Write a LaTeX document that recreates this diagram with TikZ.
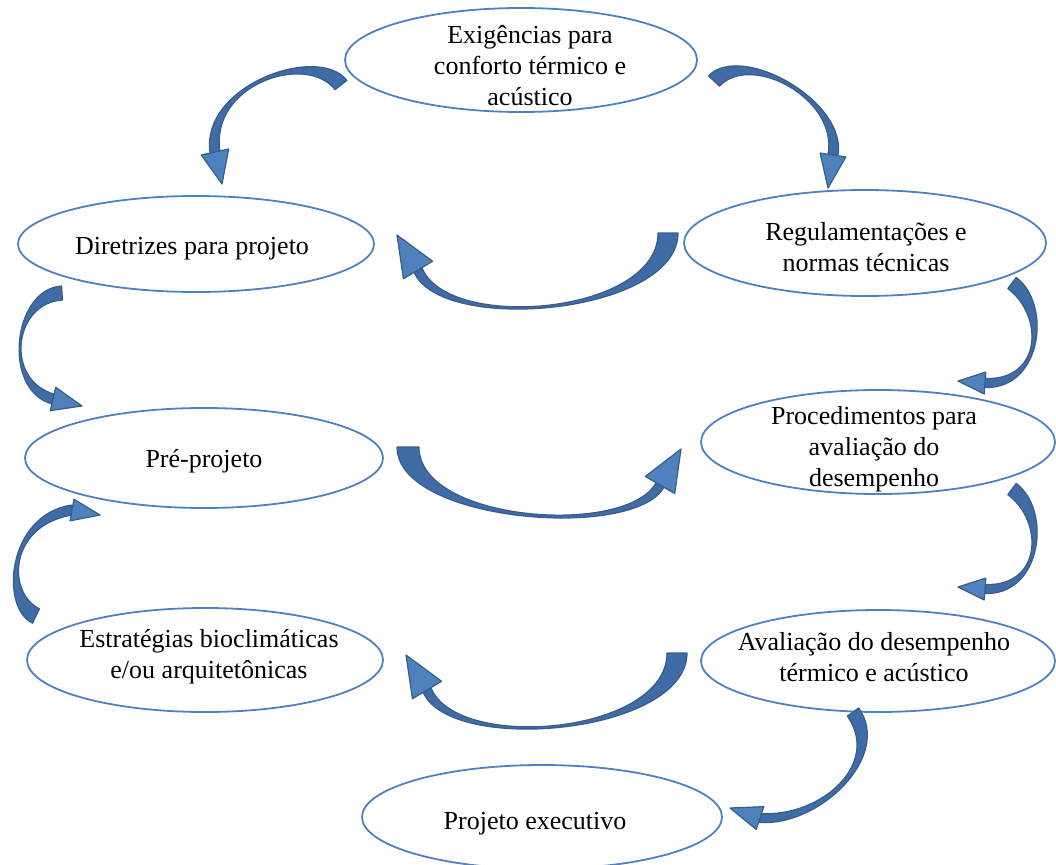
\documentclass[tikz,border=0pt]{standalone}
\usepackage{fontspec}
\setmainfont{Liberation Serif}
\usetikzlibrary{shapes.geometric,calc}
\definecolor{ellline}{HTML}{4F81BD}
\definecolor{bodyfill}{HTML}{3F6CA6}
\definecolor{headfill}{HTML}{4F81BD}
\definecolor{edgecol}{HTML}{385D8A}
\tikzset{
  bubble/.style={ellipse, draw=ellline, line width=1.8pt, fill=white, inner sep=0pt},
  btext/.style={align=center, inner sep=0pt, font=\fontsize{26}{31}\selectfont},
  arrbody/.style={fill=bodyfill, draw=edgecol, line width=1.2pt, line join=round},
  arrhead/.style={fill=headfill, draw=edgecol, line width=1.2pt, line join=round}
}
% #1 P0, #2 P1, #3 P2, #4 P3 (head base), #5 tip, #6 half width at tail, #7 half width at head, #8 half width of head
\newcommand\carrow[8]{%
  \path[arrbody]
    ($#1!#6pt!90:#2$) .. controls ($#2!#6pt!-90:#1$) and ($#3!#7pt!90:#4$) .. ($#4!#7pt!-90:#3$)
    -- ($#4!#7pt!90:#3$) .. controls ($#3!#7pt!-90:#4$) and ($#2!#6pt!90:#1$) .. ($#1!#6pt!-90:#2$) -- cycle;
  \path[arrhead] ($#4!#8pt!90:#5$) -- #5 -- ($#4!#8pt!-90:#5$) -- cycle;
}
\begin{document}
\begin{tikzpicture}[x=1pt,y=-1pt]
\useasboundingbox (0,0) rectangle (1056,864);
\clip (0,0) rectangle (1056,864);

% ellipses
\node[bubble, minimum width=352pt, minimum height=104pt] (exig) at (521,60) {};
\node[bubble, minimum width=356pt, minimum height=96pt] (dire) at (196,244) {};
\node[bubble, minimum width=362pt, minimum height=106pt] (regu) at (865,243) {};
\node[bubble, minimum width=358pt, minimum height=100pt] (prep) at (204,458) {};
\node[bubble, minimum width=354pt, minimum height=104pt] (proc) at (878,442) {};
\node[bubble, minimum width=356pt, minimum height=104pt] (estr) at (205,660) {};
\node[bubble, minimum width=354pt, minimum height=102pt] (aval) at (878,661) {};
\node[bubble, minimum width=360pt, minimum height=104pt] (pexe) at (542,817) {};

% texts
\node[btext] (exigT) at (530,66) {Exigências para\\conforto térmico e\\acústico};
\node[btext] (direT) at (192,249) {Diretrizes para projeto};
\node[btext] (reguT) at (866,247) {Regulamentações e\\normas técnicas};
\node[btext] (prepT) at (204,461) {Pré-projeto};
\node[btext] (procT) at (874,449) {Procedimentos para\\avaliação do\\desempenho};
\node[btext] (estrT) at (209,657) {Estratégias bioclimáticas\\e/ou arquitetônicas};
\node[btext] (avalT) at (874,657) {Avaliação do desempenho\\térmico e acústico};
\node[btext] (pexeT) at (535,824) {Projeto executivo};

% curved block arrows
\carrow{(341,85)}{(312,48)}{(205,85)}{(215,152)}{(222,184)}{7.5}{5}{14}
\carrow{(714,81)}{(746,47)}{(843,100)}{(833,155)}{(828,188)}{7.5}{5}{13}
\carrow{(668,233)}{(668,314)}{(445,334)}{(418,270)}{(397,235)}{10}{4.5}{17}
\carrow{(62,293)}{(13,296)}{(3,385)}{(53,399)}{(82,406)}{7}{5}{12}
\carrow{(408,447)}{(408,522)}{(630,539)}{(660,485)}{(681,449)}{11}{4.5}{17}
\carrow{(1012,283)}{(1048,310)}{(1042,385)}{(985,383)}{(958,381)}{7}{4.5}{11}
\carrow{(1012,489)}{(1048,516)}{(1042,591)}{(985,589)}{(958,587)}{7}{4.5}{11}
\carrow{(36,616)}{(3,600)}{(8,520)}{(72,510)}{(100,515)}{8}{5}{11}
\carrow{(677,653)}{(677,734)}{(454,754)}{(427,690)}{(406,655)}{10}{4.5}{17}
\carrow{(853,712)}{(887,760)}{(820,822)}{(760,818)}{(730,808)}{7}{4.5}{12}
\end{tikzpicture}
\end{document}
